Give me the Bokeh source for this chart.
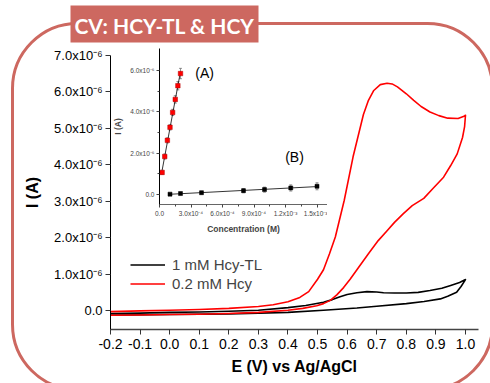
import numpy as np
from bokeh.plotting import figure
from bokeh.models import (Range1d, FixedTicker, PrintfTickFormatter, Legend, LegendItem,
                          BoxAnnotation, Label, Whisker, TeeHead, ColumnDataSource)
from bokeh.embed import file_html
from bokeh.resources import INLINE
from bokeh.core.properties import value

FONT = "Liberation Sans"
SALMON = "#CD6860"

# ---------------- main CV data (E in V, I in units of 1e-6 A) ----------------
E_red_fwd = [-0.20, -0.10, 0.00, 0.10, 0.20, 0.30, 0.35, 0.40, 0.44, 0.47, 0.50, 0.52, 0.54,
             0.56, 0.59, 0.62, 0.655, 0.672, 0.69, 0.712, 0.735, 0.752, 0.77, 0.80, 0.825,
             0.85, 0.88, 0.91, 0.94, 0.975, 0.995, 1.00]
I_red_fwd = [-0.03, -0.01, 0.01, 0.03, 0.06, 0.11, 0.16, 0.24, 0.36, 0.52, 0.86, 1.12, 1.55,
             2.02, 3.02, 4.22, 5.38, 5.77, 6.04, 6.20, 6.24, 6.22, 6.14, 5.95, 5.77,
             5.60, 5.45, 5.35, 5.28, 5.27, 5.33, 5.36]
E_red_rev = [1.00, 0.997, 0.99, 0.972, 0.95, 0.926, 0.89, 0.859, 0.82, 0.79, 0.76, 0.735,
             0.705, 0.67, 0.633, 0.61, 0.588, 0.565, 0.543, 0.52, 0.497, 0.45, 0.40, 0.30,
             0.20, 0.10, 0.00, -0.10, -0.20]
I_red_rev = [5.36, 5.05, 4.75, 4.30, 3.98, 3.66, 3.35, 3.08, 2.88, 2.66, 2.42, 2.19,
             1.92, 1.54, 1.12, 0.86, 0.63, 0.43, 0.28, 0.19, 0.13, 0.06, 0.01, -0.05,
             -0.08, -0.10, -0.11, -0.12, -0.13]

E_blk_fwd = [-0.20, -0.10, 0.00, 0.10, 0.20, 0.30, 0.40, 0.46, 0.52, 0.55, 0.576, 0.60,
             0.633, 0.667, 0.70, 0.723, 0.76, 0.80, 0.84, 0.88, 0.92, 0.95, 0.98, 1.00]
I_blk_fwd = [-0.08, -0.07, -0.05, -0.04, -0.02, 0.01, 0.08, 0.14, 0.23, 0.30, 0.38, 0.44,
             0.49, 0.52, 0.51, 0.49, 0.48, 0.48, 0.50, 0.55, 0.61, 0.69, 0.77, 0.85]
E_blk_rev = [1.00, 0.985, 0.97, 0.94, 0.915, 0.86, 0.80, 0.70, 0.633, 0.52, 0.40, 0.30,
             0.20, 0.00, -0.20]
I_blk_rev = [0.85, 0.66, 0.50, 0.39, 0.32, 0.25, 0.19, 0.12, 0.07, 0.01, -0.05, -0.07,
             -0.09, -0.11, -0.13]

E_ticks = [-0.2, -0.1, 0.0, 0.1, 0.2, 0.3, 0.4, 0.5, 0.6, 0.7, 0.8, 0.9, 1.0]
I_ticks = [0, 1, 2, 3, 4, 5, 6, 7]
I_tick_labels = ["0.0", "1.0x10\u207b\u2076", "2.0x10\u207b\u2076", "3.0x10\u207b\u2076",
                 "4.0x10\u207b\u2076", "5.0x10\u207b\u2076", "6.0x10\u207b\u2076",
                 "7.0x10\u207b\u2076"]
legend_labels = ["1 mM Hcy-TL", "0.2 mM Hcy"]
title_text = "CV: HCY-TL & HCY"

# ---------------- inset data (conc in units of 1e-4 M, I in 1e-6 A) ----------------
conc_A = [0.25, 0.5, 0.75, 1.0, 1.25, 1.5, 1.75, 2.0]
I_A = [1.07, 1.84, 2.62, 3.25, 3.97, 4.60, 5.26, 5.85]
err_A = [0.10, 0.12, 0.12, 0.13, 0.15, 0.18, 0.20, 0.25]
conc_B = [1, 2, 4, 8, 10, 12.5, 15]
I_B = [0.02, 0.05, 0.09, 0.19, 0.24, 0.32, 0.40]
err_B = [0.05, 0.06, 0.07, 0.10, 0.12, 0.15, 0.17]

conc_ticks = [0, 3, 6, 9, 12, 15]
conc_tick_labels = ["0.0", "3.0x10\u207b\u2074", "6.0x10\u207b\u2074", "9.0x10\u207b\u2074",
                    "1.2x10\u207b\u00b3", "1.5x10\u207b\u00b3"]
inset_I_ticks = [0, 2, 4, 6]
inset_I_labels = ["0.0", "2.0x10\u207b\u2076", "4.0x10\u207b\u2076", "6.0x10\u207b\u2076"]

# ================= main figure =================
p = figure(width=490, height=383, output_backend="svg", toolbar_location=None,
           x_range=Range1d(-0.2, 1.044), y_range=Range1d(-0.52, 7.0),
           min_border_left=110, min_border_right=12, min_border_top=55, min_border_bottom=54)
p.outline_line_color = None
p.grid.visible = False
p.background_fill_color = "white"
p.border_fill_color = "white"

r_blk = p.line(E_blk_fwd + E_blk_rev, I_blk_fwd + I_blk_rev, line_color="black",
               line_width=1.6, line_join="round")
r_red = p.line(E_red_fwd + E_red_rev, I_red_fwd + I_red_rev, line_color="#FF0000",
               line_width=1.6, line_join="round")

xa = p.xaxis[0]
xa.ticker = FixedTicker(ticks=E_ticks)
xa.formatter = PrintfTickFormatter(format="%.1f")
xa.axis_label = "E (V) vs Ag/AgCl"
xa.axis_line_color = "#444444"
xa.axis_line_width = 1.5
xa.major_label_standoff = 4
xa.axis_label_standoff = 6
xa.major_label_text_font_size = "14px"

ya = p.yaxis[0]
ya.ticker = FixedTicker(ticks=I_ticks)
ya.major_label_overrides = dict(zip(I_ticks, I_tick_labels))
ya.axis_label = "I (A)"
ya.axis_line_color = "black"
ya.axis_line_width = 1
ya.major_label_standoff = 3
ya.axis_label_standoff = 10
ya.major_label_text_font_size = "13px"

for ax in (xa, ya):
    ax.major_tick_in = 0
    ax.major_tick_out = 5
    ax.major_tick_line_color = "#333333"
    ax.minor_tick_line_color = None
    ax.major_label_text_font = FONT
    ax.major_label_text_color = "black"
    ax.axis_label_text_font = FONT
    ax.axis_label_text_font_style = "bold"
    ax.axis_label_text_font_size = "16px"
    ax.axis_label_text_color = "black"

legend = Legend(items=[LegendItem(label=legend_labels[0], renderers=[r_blk]),
                       LegendItem(label=legend_labels[1], renderers=[r_red])],
                location=(20, 36), orientation="vertical", glyph_width=35, glyph_height=19,
                label_height=19, spacing=0, padding=0, margin=0, label_standoff=7,
                border_line_alpha=0, background_fill_alpha=0,
                label_text_font=FONT, label_text_font_size="15px")
p.add_layout(legend)

# ================= decoration layer (pixel-space figure on top) =================
deco = figure(width=490, height=383, output_backend="svg", toolbar_location=None,
              x_range=Range1d(0, 490), y_range=Range1d(383, 0),
              x_axis_location=None, y_axis_location=None, min_border=0)
deco.outline_line_color = None
deco.grid.visible = False
deco.background_fill_alpha = 0
deco.border_fill_alpha = 0
deco.add_layout(BoxAnnotation(left=12, right=492, top=23, bottom=389,
                              fill_color=None, fill_alpha=0, line_color=SALMON,
                              line_alpha=1, line_width=3, border_radius=65))
deco.add_layout(BoxAnnotation(left=70, right=258, top=5, bottom=42,
                              fill_color=SALMON, fill_alpha=1, line_color=None))
deco.add_layout(Label(x=164, y=25, text=title_text, text_color="white", text_font="Lato",
                      text_font_style="bold", text_font_size="21px",
                      text_align="center", text_baseline="middle"))
deco.styles = {"position": "absolute", "left": "0px", "top": "0px"}

# ================= inset figure =================
q = figure(width=218, height=196, output_backend="svg", toolbar_location=None,
           x_range=Range1d(0, 16), y_range=Range1d(-0.48, 7.06),
           min_border_left=50, min_border_right=0, min_border_top=8, min_border_bottom=31)
q.outline_line_color = None
q.grid.visible = False
q.background_fill_alpha = 0
q.border_fill_alpha = 0

# linear fits drawn through data
for cx, cy in ((conc_A, I_A), (conc_B, I_B)):
    k, b = np.polyfit(cx, cy, 1)
    xx = np.array([min(cx), max(cx)])
    q.line(xx, k * xx + b, line_color="black", line_width=0.8)

srcA = ColumnDataSource(dict(x=conc_A, y=I_A, lo=np.array(I_A) - np.array(err_A),
                             hi=np.array(I_A) + np.array(err_A)))
srcB = ColumnDataSource(dict(x=conc_B, y=I_B, lo=np.array(I_B) - np.array(err_B),
                             hi=np.array(I_B) + np.array(err_B)))
for src in (srcA, srcB):
    q.add_layout(Whisker(source=src, base="x", upper="hi", lower="lo",
                         line_color="#666666", line_width=0.7,
                         upper_head=TeeHead(size=3, line_color="#666666", line_width=0.7),
                         lower_head=TeeHead(size=3, line_color="#666666", line_width=0.7)))
q.scatter("x", "y", source=srcA, marker="square", size=4.5, fill_color="#FF0000",
          line_color="#B00000", line_width=0.5)
q.scatter("x", "y", source=srcB, marker="square", size=4, fill_color="black",
          line_color="black", line_width=0.5)

q.text(x=[4.3], y=[5.86], text=["(A)"], text_font=value(FONT), text_font_size="14px",
       text_align="center", text_baseline="middle")
q.text(x=[12.86], y=[1.82], text=["(B)"], text_font=value(FONT), text_font_size="14px",
       text_align="center", text_baseline="middle")

qx = q.xaxis[0]
qx.ticker = FixedTicker(ticks=conc_ticks, minor_ticks=[1.5, 4.5, 7.5, 10.5, 13.5])
qx.major_label_overrides = dict(zip(conc_ticks, conc_tick_labels))
qx.axis_label = "Concentration (M)"
qx.axis_line_color = "#666666"
qy = q.yaxis[0]
qy.ticker = FixedTicker(ticks=inset_I_ticks, minor_ticks=[1, 3, 5])
qy.major_label_overrides = dict(zip(inset_I_ticks, inset_I_labels))
qy.axis_label = "I (A)"
qy.axis_line_color = "black"
for ax in (qx, qy):
    ax.axis_line_width = 1
    ax.major_tick_in = 0
    ax.major_tick_out = 3
    ax.minor_tick_in = 0
    ax.minor_tick_out = 2
    ax.major_tick_line_color = "#444444"
    ax.minor_tick_line_color = "#444444"
    ax.major_label_text_font = FONT
    ax.major_label_text_font_size = "6.5px"
    ax.major_label_standoff = 2
    ax.axis_label_text_font = FONT
    ax.axis_label_text_font_style = "bold"
    ax.axis_label_text_font_size = "8.5px"
    ax.axis_label_standoff = 4

q.styles = {"position": "absolute", "left": "109px", "top": "40px"}

open("out.html", "w").write(file_html([p, deco, q], INLINE))
